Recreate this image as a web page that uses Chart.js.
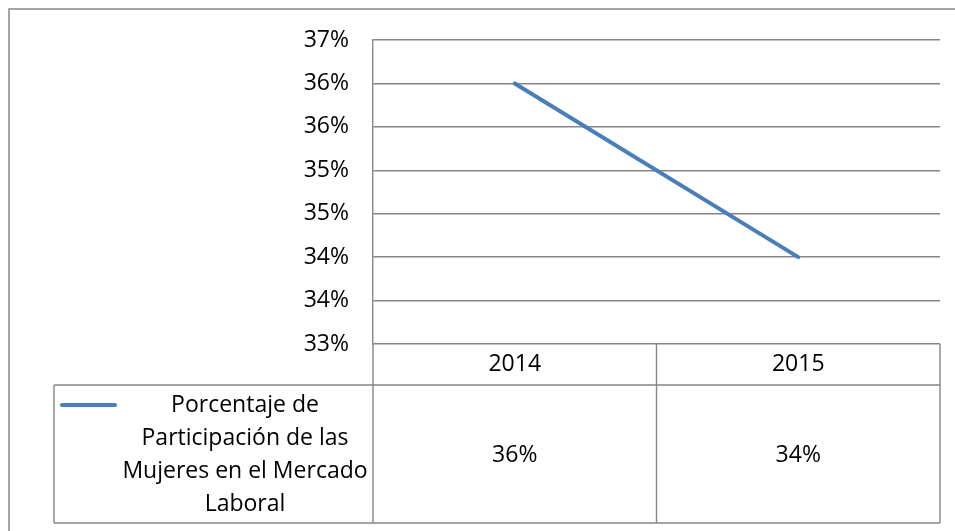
<!DOCTYPE html>
<html>
<head>
<meta charset="utf-8">
<script src="https://cdn.jsdelivr.net/npm/chart.js@4/dist/chart.umd.min.js"></script>
<style>
html,body{margin:0;padding:0;background:#fff;}
#wrap{width:955px;height:531px;}
</style>
</head>
<body>
<div id="wrap"><canvas id="c" width="955" height="531"></canvas></div>
<script>
// ---- data ----
const categories = ['2014', '2015'];
const seriesName = 'Porcentaje de Participación de las Mujeres en el Mercado Laboral';
const seriesLegendLines = ['Porcentaje de', 'Participación de las', 'Mujeres en el Mercado', 'Laboral'];
const values = [36.5, 34.5];
const valueLabels = ['36%', '34%'];
const yTickLabels = ['33%', '34%', '34%', '35%', '35%', '36%', '36%', '37%']; // bottom to top
const yMin = 33.5, yMax = 37, yStep = 0.5;

// ---- style ----
const FONT = '"Open Sans", "Liberation Sans", sans-serif';
const FSIZE = 23;
const GRID = '#868686';
const LINE = '#4A7EBB';

const tablePlugin = {
  id: 'dataTable',
  beforeDraw(chart) {
    const ctx = chart.ctx;
    ctx.save();
    ctx.fillStyle = '#fff';
    ctx.fillRect(0, 0, chart.width, chart.height);
    ctx.strokeStyle = GRID;
    ctx.lineWidth = 1.5;
    ctx.strokeRect(9, 9, chart.width + 20, chart.height + 20);
    ctx.restore();
  },
  afterDraw(chart) {
    const ctx = chart.ctx;
    const xs = chart.scales.x;
    const ca = chart.chartArea;
    const headTop = ca.bottom;
    const headBot = headTop + 41;
    const rowBot = 523;
    const legLeft = 54;
    const centers = categories.map((c, i) => xs.getPixelForValue(i));
    const bounds = [ca.left];
    for (let i = 0; i < centers.length - 1; i++) bounds.push((centers[i] + centers[i + 1]) / 2);
    bounds.push(ca.right);

    ctx.save();
    ctx.strokeStyle = GRID;
    ctx.lineWidth = 1.4;
    ctx.beginPath();
    bounds.forEach(b => { ctx.moveTo(b, headTop); ctx.lineTo(b, headBot); });
    ctx.moveTo(legLeft, headBot); ctx.lineTo(ca.right, headBot);
    ctx.moveTo(legLeft, rowBot); ctx.lineTo(ca.right, rowBot);
    ctx.moveTo(legLeft, headBot); ctx.lineTo(legLeft, rowBot);
    bounds.forEach(b => { ctx.moveTo(b, headBot); ctx.lineTo(b, rowBot); });
    ctx.stroke();

    // legend key
    ctx.strokeStyle = LINE;
    ctx.lineWidth = 4;
    ctx.lineCap = 'round';
    ctx.beginPath();
    ctx.moveTo(62, 405); ctx.lineTo(115, 405);
    ctx.stroke();

    ctx.fillStyle = '#000';
    ctx.font = FSIZE + 'px ' + FONT;
    ctx.textAlign = 'center';
    ctx.textBaseline = 'middle';
    categories.forEach((c, i) => ctx.fillText(c, centers[i], (headTop + headBot) / 2));
    valueLabels.forEach((v, i) => ctx.fillText(v, centers[i], (headBot + rowBot) / 2 + 1));
    const lineYs = [405, 438, 471, 504];
    seriesLegendLines.forEach((t, i) => ctx.fillText(t, 245, lineYs[i]));
    ctx.restore();
  }
};

new Chart(document.getElementById('c'), {
  type: 'line',
  data: {
    labels: categories,
    datasets: [{
      label: seriesName,
      data: values,
      borderColor: LINE,
      backgroundColor: LINE,
      borderWidth: 4,
      borderCapStyle: 'round',
      pointRadius: 0,
      tension: 0,
      fill: false
    }]
  },
  options: {
    responsive: false,
    devicePixelRatio: 1,
    animation: false,
    layout: { padding: { top: 40, right: 15, bottom: 187, left: 0 } },
    plugins: { legend: { display: false }, tooltip: { enabled: false } },
    scales: {
      x: { type: 'category', offset: true, display: false },
      y: {
        min: yMin, max: yMax,
        afterFit(scale) { scale.width = 373; },
        ticks: {
          stepSize: yStep,
          padding: 24,
          color: '#000',
          font: { family: FONT, size: FSIZE },
          callback: (v, i) => yTickLabels[i]
        },
        grid: { color: GRID, lineWidth: 1.4, drawTicks: false, tickLength: 0 },
        border: { color: GRID, width: 1.4 }
      }
    }
  },
  plugins: [tablePlugin]
});
</script>
</body>
</html>
